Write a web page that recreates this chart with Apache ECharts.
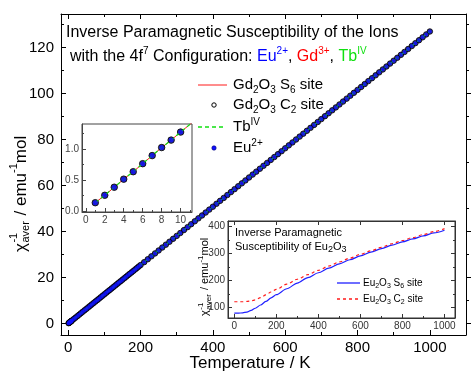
<!DOCTYPE html>
<html>
<head>
<meta charset="utf-8">
<script src="https://cdn.jsdelivr.net/npm/echarts@6/dist/echarts.min.js"></script>
<style>
  html, body { margin: 0; padding: 0; background: #fff; }
  #chart { width: 473px; height: 371px; }
</style>
</head>
<body>
<div id="chart"></div>
<script>
// ---- data: inverse paramagnetic susceptibility of the 4f7 ions (emu^-1 mol) ----
const temperatureK = [
  1, 2, 3, 4, 5, 6, 7, 8, 9, 10,
  15, 20, 25, 30, 35, 40, 45, 50, 55, 60, 65, 70, 75, 80, 85, 90, 95, 100,
  105, 110, 115, 120, 125, 130, 135, 140, 145, 150, 155, 160, 165, 170, 175, 180, 185, 190, 195, 200,
  210, 220, 230, 240, 250, 260, 270, 280, 290, 300, 310, 320, 330, 340, 350, 360, 370, 380, 390, 400,
  410, 420, 430, 440, 450, 460, 470, 480, 490, 500, 510, 520, 530, 540, 550, 560, 570, 580, 590, 600,
  610, 620, 630, 640, 650, 660, 670, 680, 690, 700, 710, 720, 730, 740, 750, 760, 770, 780, 790, 800,
  810, 820, 830, 840, 850, 860, 870, 880, 890, 900, 910, 920, 930, 940, 950, 960, 970, 980, 990, 1000
];
const inverseChi = [
  0.13, 0.25, 0.38, 0.51, 0.63, 0.76, 0.89, 1.02, 1.14, 1.27,
  1.90, 2.54, 3.17, 3.81, 4.44, 5.08, 5.71, 6.35, 6.98, 7.61, 8.25, 8.88, 9.52, 10.15, 10.79, 11.42, 12.06, 12.69,
  13.32, 13.96, 14.59, 15.23, 15.86, 16.50, 17.13, 17.77, 18.40, 19.04, 19.67, 20.30, 20.94, 21.57, 22.21, 22.84, 23.48, 24.11, 24.75, 25.38,
  26.65, 27.92, 29.19, 30.46, 31.73, 33.00, 34.26, 35.53, 36.80, 38.07, 39.34, 40.61, 41.88, 43.15, 44.42, 45.69, 46.95, 48.22, 49.49, 50.76,
  52.03, 53.30, 54.57, 55.84, 57.11, 58.38, 59.64, 60.91, 62.18, 63.45, 64.72, 65.99, 67.26, 68.53, 69.80, 71.07, 72.34, 73.60, 74.87, 76.14,
  77.41, 78.68, 79.95, 81.22, 82.49, 83.76, 85.03, 86.30, 87.56, 88.83, 90.10, 91.37, 92.64, 93.91, 95.18, 96.45, 97.72, 98.99, 100.25, 101.52,
  102.79, 104.06, 105.33, 106.60, 107.87, 109.14, 110.41, 111.68, 112.95, 114.21, 115.48, 116.75, 118.02, 119.29, 120.56, 121.83, 123.10, 124.37, 125.63, 126.90
];

// ---- data: Eu2O3, the two crystallographic sites ----
const eu2o3Temperature = [0, 20, 40, 60, 80, 100, 125, 150, 175, 200, 250, 300, 350, 400, 450, 500, 550, 600, 650, 700, 750, 800, 850, 900, 950, 1000];
const eu2o3S6 = [80, 80, 81, 84, 90, 98, 110, 123, 136, 148, 170, 191, 211, 229, 246, 262, 277, 291, 305, 318, 331, 343, 354, 365, 376, 386];
const eu2o3C2 = [122, 122, 122, 123, 125, 129, 137, 147, 158, 168, 187, 205, 222, 238, 254, 269, 283, 297, 310, 323, 336, 348, 359, 370, 381, 392];

// ---- tick positions ----
const mainXTicks = [0, 200, 400, 600, 800, 1000];
const mainXMinor = [100, 300, 500, 700, 900, 1100];
const mainYTicks = [0, 20, 40, 60, 80, 100, 120];
const mainYMinor = [10, 30, 50, 70, 90, 110, 130];
const inset1XTicks = [0, 2, 4, 6, 8, 10];
const inset1XMinor = [1, 3, 5, 7, 9, 11];
const inset1YTicks = [0, 0.5, 1.0];
const inset1YMinor = [0.25, 0.75, 1.25];
const inset2XTicks = [0, 200, 400, 600, 800, 1000];
const inset2XMinor = [100, 300, 500, 700, 900];
const inset2YTicks = [100, 200, 300, 400];
const inset2YMinor = [150, 250, 350];

const FONT = "'Liberation Sans', Arial, Helvetica, sans-serif";
const BLUE = '#1010ff', RED = '#ff1a1a', GREEN = '#10e010';

function pairs(xs, ys) {
  const out = [];
  for (let i = 0; i < xs.length; i++) out.push([xs[i], ys[i]]);
  return out;
}

const xAxes = [], yAxes = [];
function tickAxis(list, o) {
  list.push({
    type: 'value', gridIndex: o.grid, position: o.pos, min: o.min, max: o.max,
    splitLine: { show: false }, splitArea: { show: false },
    axisLine: { show: !!o.line, onZero: false, lineStyle: { color: o.color, width: 1 } },
    axisTick: { show: true, inside: o.inside, length: o.len, customValues: o.values,
                lineStyle: { color: o.color, width: 1 } },
    axisLabel: o.label ? Object.assign({ show: true, customValues: o.values, fontFamily: FONT,
                                         formatter: v => String(v) }, o.label)
                       : { show: false },
    axisPointer: { show: false }, silent: true
  });
  return list.length - 1;
}

// main plot axes
const mX = tickAxis(xAxes, { grid: 0, pos: 'bottom', min: -20, max: 1100, values: mainXTicks, len: 5, inside: true, color: '#000', line: true,
  label: { fontSize: 15, color: '#000', margin: 5 } });
tickAxis(xAxes, { grid: 0, pos: 'bottom', min: -20, max: 1100, values: mainXMinor, len: 3, inside: true, color: '#000' });
tickAxis(xAxes, { grid: 0, pos: 'top', min: -20, max: 1100, values: mainXTicks, len: 5, inside: true, color: '#000', line: true });
tickAxis(xAxes, { grid: 0, pos: 'top', min: -20, max: 1100, values: mainXMinor, len: 3, inside: true, color: '#000' });
const mY = tickAxis(yAxes, { grid: 0, pos: 'left', min: -5, max: 134.5, values: mainYTicks, len: 5, inside: true, color: '#000', line: true,
  label: { fontSize: 15, color: '#000', margin: 7 } });
tickAxis(yAxes, { grid: 0, pos: 'left', min: -5, max: 134.5, values: mainYMinor, len: 3, inside: true, color: '#000' });
tickAxis(yAxes, { grid: 0, pos: 'right', min: -5, max: 134.5, values: mainYTicks, len: 5, inside: false, color: '#000', line: true });
tickAxis(yAxes, { grid: 0, pos: 'right', min: -5, max: 134.5, values: mainYMinor, len: 3, inside: false, color: '#000' });

// low-temperature inset axes
const aX = tickAxis(xAxes, { grid: 1, pos: 'bottom', min: -0.4, max: 11.2, values: inset1XTicks, len: 4, inside: true, color: '#444', line: true,
  label: { fontSize: 10, color: '#444', margin: 3 } });
tickAxis(xAxes, { grid: 1, pos: 'bottom', min: -0.4, max: 11.2, values: inset1XMinor, len: 2, inside: true, color: '#444' });
const aY = tickAxis(yAxes, { grid: 1, pos: 'left', min: -0.02, max: 1.4, values: inset1YTicks, len: 4, inside: true, color: '#444', line: true,
  label: { fontSize: 10, color: '#444', margin: 3, formatter: v => v.toFixed(1) } });
tickAxis(yAxes, { grid: 1, pos: 'left', min: -0.02, max: 1.4, values: inset1YMinor, len: 2, inside: true, color: '#444' });

// Eu2O3 inset axes
const bX = tickAxis(xAxes, { grid: 2, pos: 'bottom', min: -30, max: 1050, values: inset2XTicks, len: 4, inside: true, color: '#333', line: true,
  label: { fontSize: 10, color: '#333', margin: 3 } });
tickAxis(xAxes, { grid: 2, pos: 'bottom', min: -30, max: 1050, values: inset2XMinor, len: 2, inside: true, color: '#333' });
tickAxis(xAxes, { grid: 2, pos: 'top', min: -30, max: 1050, values: inset2XTicks, len: 4, inside: true, color: '#333', line: true });
const bY = tickAxis(yAxes, { grid: 2, pos: 'left', min: 62, max: 420, values: inset2YTicks, len: 4, inside: true, color: '#333', line: true,
  label: { fontSize: 10, color: '#333', margin: 3 } });
tickAxis(yAxes, { grid: 2, pos: 'left', min: 62, max: 420, values: inset2YMinor, len: 2, inside: true, color: '#333' });
tickAxis(yAxes, { grid: 2, pos: 'right', min: 62, max: 420, values: inset2YTicks, len: 4, inside: true, color: '#333', line: true });
tickAxis(yAxes, { grid: 2, pos: 'right', min: 62, max: 420, values: inset2YMinor, len: 2, inside: true, color: '#333' });

// the four 4f7 data sets, drawn on a given pair of axes
function ionSeries(xi, yi, dotSize, ringSize) {
  const data = pairs(temperatureK, inverseChi);
  return [
    { name: 'Gd2O3 S6 site', type: 'line', xAxisIndex: xi, yAxisIndex: yi, data, showSymbol: false, clip: true, z: 2,
      lineStyle: { color: RED, width: 1 }, silent: true },
    { name: 'Gd2O3 C2 site', type: 'scatter', xAxisIndex: xi, yAxisIndex: yi, data, symbol: 'circle', symbolSize: ringSize, clip: true, z: 3,
      itemStyle: { color: '#000048', borderColor: '#000', borderWidth: 1 }, silent: true },
    { name: 'TbIV', type: 'line', xAxisIndex: xi, yAxisIndex: yi, data, showSymbol: false, clip: true, z: 4,
      lineStyle: { color: GREEN, width: 1.2, type: [4, 3] }, silent: true },
    { name: 'Eu2+', type: 'scatter', xAxisIndex: xi, yAxisIndex: yi, data, symbol: 'circle', symbolSize: dotSize, clip: true, z: 5,
      itemStyle: { color: BLUE, borderWidth: 0 }, silent: true }
  ];
}

// text measuring for the stacked axis titles
const measureCtx = document.createElement('canvas').getContext('2d');
function textWidth(t, size) {
  measureCtx.font = size + 'px ' + FONT;
  return measureCtx.measureText(t).width;
}
function stackedTitle(x0, y0, big, small) {
  const children = [];
  let cx = 0;
  const put = (t, s, dy) => children.push({ type: 'text', x: cx, y: dy,
    style: { text: t, fontSize: s, fontFamily: FONT, fill: '#000', verticalAlign: 'middle', align: 'left' } });
  put('χ', big, 0); cx += textWidth('χ', big) + 0.5;
  put('-1', small, -big * 0.4); put('aver', small, big * 0.32);
  cx += Math.max(textWidth('-1', small), textWidth('aver', small)) + 1;
  put(' / emu', big, 0); cx += textWidth(' / emu', big);
  put('-1', small, -big * 0.4); cx += textWidth('-1', small);
  put('mol', big, 0);
  return { type: 'group', x: x0, y: y0, rotation: Math.PI / 2, children, z: 100 };
}

function richStyle(size, subSize) {
  const base = { fontSize: size, fontFamily: FONT, lineHeight: Math.round(size * 1.3), verticalAlign: 'middle' };
  const sup = { fontSize: subSize, fontFamily: FONT, lineHeight: subSize, verticalAlign: 'top' };
  const sub = { fontSize: subSize, fontFamily: FONT, lineHeight: subSize, verticalAlign: 'bottom' };
  const col = (o, c) => Object.assign({}, o, { fill: c, color: c });
  return {
    n: col(base, '#000'), p: col(sup, '#000'), s: col(sub, '#000'),
    eu: col(base, '#0000ff'), euP: col(sup, '#0000ff'),
    gd: col(base, '#ff0000'), gdP: col(sup, '#ff0000'),
    tb: col(base, GREEN), tbP: col(sup, GREEN)
  };
}
function richText(x, y, text, size, subSize) {
  return { type: 'text', x, y, z: 100,
    style: { text, fontSize: size, fontFamily: FONT, fill: '#000', verticalAlign: 'middle', align: 'left',
             rich: richStyle(size, subSize) } };
}

const graphics = [
  richText(66, 33, '{n|Inverse Paramagnetic Susceptibility of the Ions}', 16, 10),
  richText(70, 57, '{n|with the 4f}{p|7}{n| Configuration: }{eu|Eu}{euP|2+}{n|, }{gd|Gd}{gdP|3+}{n|, }{tb|Tb}{tbP|IV}', 16, 10),

  // legend of the main plot
  { type: 'line', z: 100, shape: { x1: 198, y1: 85, x2: 227, y2: 85 }, style: { stroke: RED, lineWidth: 1 } },
  richText(233, 85, '{n|Gd}{s|2}{n|O}{s|3}{n| S}{s|6}{n| site}', 15, 10),
  { type: 'circle', z: 100, shape: { cx: 214, cy: 105, r: 2.2 }, style: { fill: 'none', stroke: '#000', lineWidth: 1 } },
  richText(233, 105, '{n|Gd}{s|2}{n|O}{s|3}{n| C}{s|2}{n| site}', 15, 10),
  { type: 'line', z: 100, shape: { x1: 198, y1: 127, x2: 225, y2: 127 }, style: { stroke: GREEN, lineWidth: 1.3, lineDash: [4, 3] } },
  richText(233, 127, '{n|Tb}{p|IV}', 15, 10),
  { type: 'circle', z: 100, shape: { cx: 214, cy: 148, r: 2.2 }, style: { fill: BLUE, stroke: '#000070', lineWidth: 0.6 } },
  richText(233, 148, '{n|Eu}{p|2+}', 15, 10),

  // Eu2O3 inset title and legend
  richText(235, 233, '{n|Inverse Paramagnetic}', 11, 8),
  richText(235, 247, '{n|Susceptibility of Eu}{s|2}{n|O}{s|3}', 11, 9),
  { type: 'line', z: 100, shape: { x1: 337, y1: 283, x2: 360, y2: 283 }, style: { stroke: '#2020ff', lineWidth: 1.3 } },
  richText(363, 283, '{n|Eu}{s|2}{n|O}{s|3}{n| S}{s|6}{n| site}', 10, 7),
  { type: 'line', z: 100, shape: { x1: 337, y1: 299, x2: 360, y2: 299 }, style: { stroke: RED, lineWidth: 1.3, lineDash: [3, 3] } },
  richText(363, 299, '{n|Eu}{s|2}{n|O}{s|3}{n| C}{s|2}{n| site}', 10, 7),

  // axis titles
  { type: 'text', x: 250, y: 363, z: 100,
    style: { text: 'Temperature / K', fontSize: 17, fontFamily: FONT, fill: '#000', align: 'center', verticalAlign: 'middle' } },
  stackedTitle(21, 252, 17, 11),
  stackedTitle(205, 316, 11, 8)
];

const series = [].concat(
  ionSeries(mX, mY, 4, 5.5),
  ionSeries(aX, aY, 5, 6.5),
  [
    { name: 'Eu2O3 S6 site', type: 'line', xAxisIndex: bX, yAxisIndex: bY, data: pairs(eu2o3Temperature, eu2o3S6),
      showSymbol: false, smooth: 0.3, smoothMonotone: 'x', clip: true, lineStyle: { color: '#2020ff', width: 1.2 }, silent: true },
    { name: 'Eu2O3 C2 site', type: 'line', xAxisIndex: bX, yAxisIndex: bY, data: pairs(eu2o3Temperature, eu2o3C2),
      showSymbol: false, smooth: 0.3, smoothMonotone: 'x', clip: true, lineStyle: { color: RED, width: 1.2, type: [3, 3] }, silent: true }
  ]
);

const chart = echarts.init(document.getElementById('chart'), null, { renderer: 'canvas' });
chart.setOption({
  animation: false,
  backgroundColor: '#fff',
  grid: [
    { left: 61, top: 14, width: 405, height: 321, show: false, containLabel: false },
    { left: 82, top: 124, width: 110, height: 88, show: true, backgroundColor: '#fff', borderColor: '#444', borderWidth: 1, containLabel: false },
    { left: 228, top: 221, width: 227, height: 97, show: true, backgroundColor: '#fff', borderColor: '#333', borderWidth: 1, containLabel: false }
  ],
  xAxis: xAxes,
  yAxis: yAxes,
  series,
  graphic: graphics
});
</script>
</body>
</html>
